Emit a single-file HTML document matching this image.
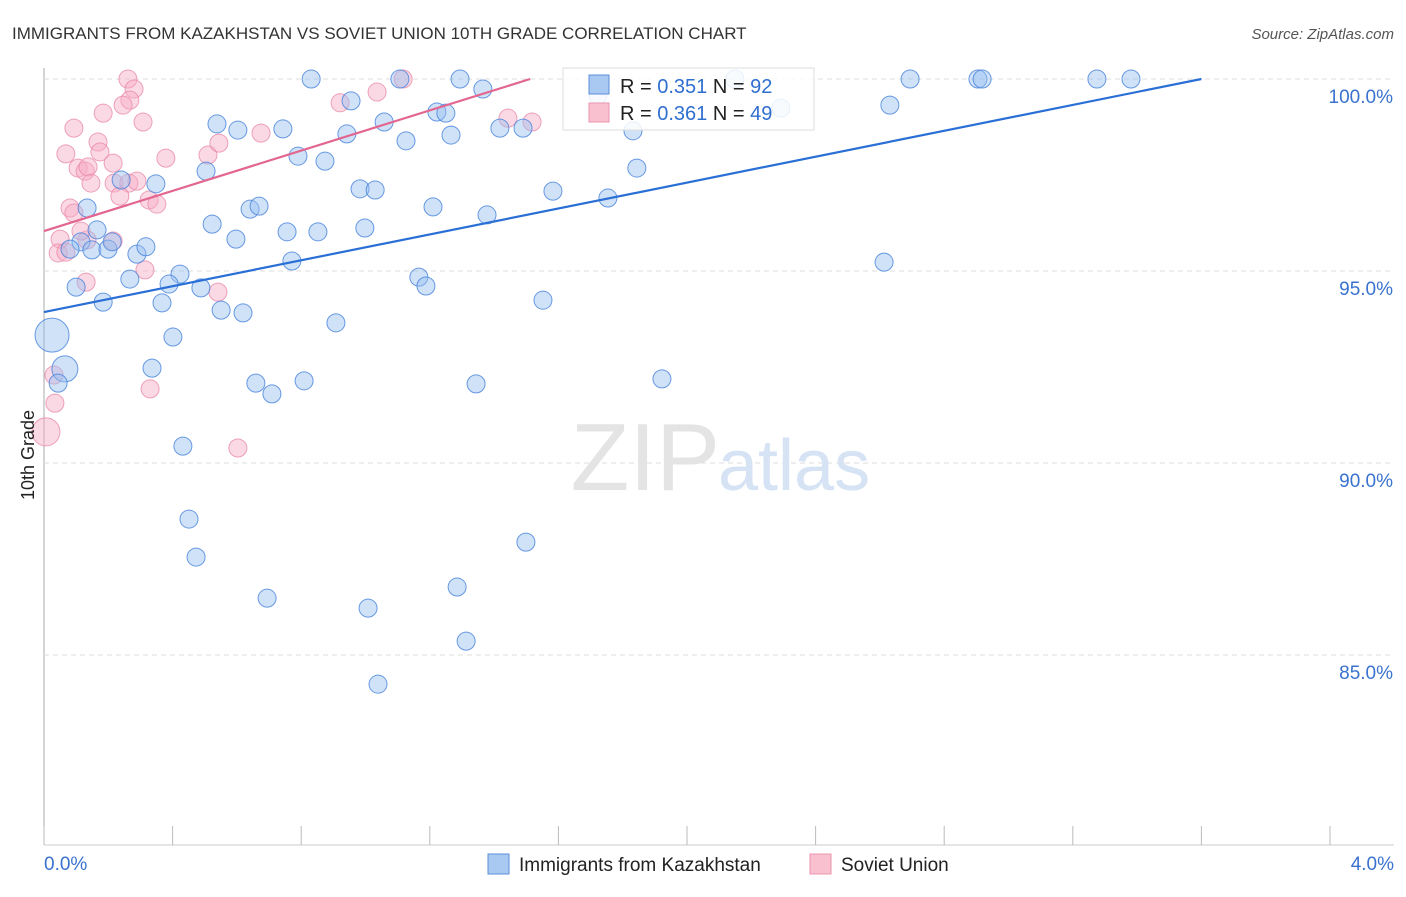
<!DOCTYPE html>
<html><head><meta charset="utf-8"><style>
body{margin:0;background:#fff;font-family:"Liberation Sans",sans-serif;}
svg text{font-family:"Liberation Sans",sans-serif;}
</style></head><body>
<svg id="chart" width="1406" height="892" viewBox="0 0 1406 892">
<text x="12" y="39" font-size="17" fill="#333">IMMIGRANTS FROM KAZAKHSTAN VS SOVIET UNION 10TH GRADE CORRELATION CHART</text>
<text x="1394" y="39" font-size="15" fill="#555" text-anchor="end" font-style="italic">Source: ZipAtlas.com</text>
<g id="grid"></g>
<text x="720" y="490" font-size="96" fill="#e4e4e4" text-anchor="end" font-family="Liberation Serif">ZIP</text>
<text x="718" y="490" font-size="72" fill="#d6e3f5">atlas</text>
<g id="pts"></g>
<g id="lines"></g>
<text transform="translate(34,455) rotate(-90)" font-size="18" fill="#222" text-anchor="middle">10th Grade</text>
<g>
<rect x="563" y="68" width="251" height="62" fill="#fff" stroke="#ddd" fill-opacity="0.85"/>
<rect x="589" y="75" width="20" height="19" fill="#a9c9f3" stroke="#5b8fd9"/>
<rect x="589" y="103" width="20" height="19" fill="#f9c0d0" stroke="#e994ae"/>
<text x="620" y="93" font-size="20" fill="#222">R = <tspan fill="#2f6fd0">0.351</tspan>   N = <tspan fill="#2f6fd0">92</tspan></text>
<text x="620" y="120" font-size="20" fill="#222">R = <tspan fill="#2f6fd0">0.361</tspan>   N = <tspan fill="#2f6fd0">49</tspan></text>
</g>
<g>
<rect x="488" y="854" width="21" height="20" fill="#a9c9f3" stroke="#5b8fd9"/>
<text x="519" y="871" font-size="19" fill="#222">Immigrants from Kazakhstan</text>
<rect x="810" y="854" width="21" height="20" fill="#f9c0d0" stroke="#e994ae"/>
<text x="841" y="871" font-size="19" fill="#222">Soviet Union</text>
</g>
</svg>
<script>
const yTicks=[100,95,90,85];
const yTickLabels=["100.0%","95.0%","90.0%","85.0%"];
const xTickVals=[0,0.4,0.8,1.2,1.6,2.0,2.4,2.8,3.2,3.6,4.0];
const xLabels=["0.0%","4.0%"];
const blueX=[0.831,1.294,1.107,2.149,2.694,2.905,2.918,3.275,3.381,1.723,2.631,2.292,0.955,1.222,1.250,1.365,0.538,0.603,0.743,1.058,0.942,1.126,1.266,1.418,1.490,1.832,0.790,0.874,0.504,0.240,0.348,0.983,1.030,1.583,1.754,1.844,0.134,0.641,0.669,1.210,1.378,0.523,0.165,0.597,0.756,0.852,0.998,0.115,0.081,0.149,0.199,0.212,0.289,0.317,0.771,2.613,0.423,0.267,0.389,0.488,1.166,1.188,0.100,0.184,0.367,0.551,0.619,0.908,1.552,0.401,0.025,0.065,0.044,0.336,0.659,0.709,0.809,1.344,1.922,0.432,0.451,0.473,0.694,1.008,1.285,1.499,1.313,1.039];
const blueY=[100,100,100,100,100,100,100,100,100,99.58,99.32,99.24,99.43,99.14,99.11,99.74,98.83,98.67,98.70,98.88,98.57,98.39,98.54,98.72,98.72,98.65,97.99,97.86,97.60,97.37,97.27,97.14,97.11,97.08,96.90,97.68,96.64,96.61,96.69,96.67,96.46,96.22,96.07,95.83,96.02,96.02,96.12,95.76,95.57,95.55,95.57,95.76,95.44,95.63,95.26,95.23,94.92,94.79,94.66,94.56,94.84,94.61,94.58,94.19,94.17,93.98,93.91,93.65,94.24,93.28,93.33,92.45,92.08,92.47,92.08,91.80,92.14,92.06,92.19,90.44,88.54,87.55,86.48,86.22,86.77,87.94,85.36,84.24];
const blueBig=[70,71];
const pinkX=[0.261,0.280,0.267,0.246,0.184,0.308,0.093,0.379,0.510,0.544,0.168,0.068,0.174,0.215,0.106,0.128,0.137,0.146,0.218,0.264,0.289,0.236,0.327,0.351,0.081,0.093,0.050,0.134,0.215,0.115,0.044,0.068,0.314,0.131,0.541,0.330,0.603,0.031,0.034,0.006,0.675,0.921,1.036,1.117,1.443,1.518];
const pinkY=[100,99.74,99.45,99.32,99.11,98.88,98.72,97.94,98.02,98.33,98.36,98.05,98.10,97.81,97.68,97.60,97.71,97.29,97.29,97.29,97.34,96.95,96.85,96.74,96.64,96.51,95.83,95.81,95.78,96.04,95.47,95.49,95.03,94.71,94.45,91.93,90.39,92.29,91.56,90.81,98.59,99.38,99.66,100,98.98,98.88];
const pinkBig=[39];
const blueTrend=[[0,93.93],[3.6,100]];
const pinkTrend=[[0,96.04],[1.512,100]];
const NS="http://www.w3.org/2000/svg";
const X=v=>44+v/4*1286;
const Y=v=>79+(100-v)*38.4;
function mk(t,a,p){const e=document.createElementNS(NS,t);for(const k in a)e.setAttribute(k,a[k]);p.appendChild(e);return e;}
const grid=document.getElementById('grid');
const ax=mk('line',{x1:44,y1:68,x2:44,y2:845,stroke:'#aaa'},grid);


const bx=mk('line',{x1:44,y1:845,x2:1394,y2:845,stroke:'#ccc'},grid);


yTicks.forEach((t,i)=>{
 const g=mk('line',{x1:44,y1:Y(t),x2:1394,y2:Y(t),stroke:'#ddd','stroke-dasharray':'5,4'},grid);
 
 
 const tx=mk('text',{x:1393,y:Y(t)+24,'font-size':19,fill:'#3a72d0','text-anchor':'end'},grid);
 tx.textContent=yTickLabels[i];
 
 
});
xTickVals.forEach(t=>{
 const l=mk('line',{x1:X(t),y1:826,x2:X(t),y2:845,stroke:'#bbb'},grid);
 
 
});
const xl0=mk('text',{x:44,y:870,'font-size':19,fill:'#3a72d0'},grid);xl0.textContent=xLabels[0];


const xl1=mk('text',{x:1394,y:870,'font-size':19,fill:'#3a72d0','text-anchor':'end'},grid);xl1.textContent=xLabels[1];


const pts=document.getElementById('pts');
pinkX.forEach((x,i)=>{
 const c=mk('circle',{cx:X(x),cy:Y(pinkY[i]),r:pinkBig.includes(i)?14:9,fill:'rgba(246,170,195,0.45)',stroke:'rgba(232,140,170,0.8)','stroke-width':1},pts);
 
 
});
blueX.forEach((x,i)=>{
 const c=mk('circle',{cx:X(x),cy:Y(blueY[i]),r:i===70?17:(i===71?13:9),fill:'rgba(150,190,240,0.45)',stroke:'rgba(70,130,220,0.8)','stroke-width':1},pts);
 
 
});
const lines=document.getElementById('lines');
const bl=mk('line',{x1:X(blueTrend[0][0]),y1:Y(blueTrend[0][1]),x2:X(blueTrend[1][0]),y2:Y(blueTrend[1][1]),stroke:'#2a6fd6','stroke-width':2.2},lines);


const pl=mk('line',{x1:X(pinkTrend[0][0]),y1:Y(pinkTrend[0][1]),x2:X(pinkTrend[1][0]),y2:Y(pinkTrend[1][1]),stroke:'#e2668f','stroke-width':2.2},lines);


</script>
</body></html>
